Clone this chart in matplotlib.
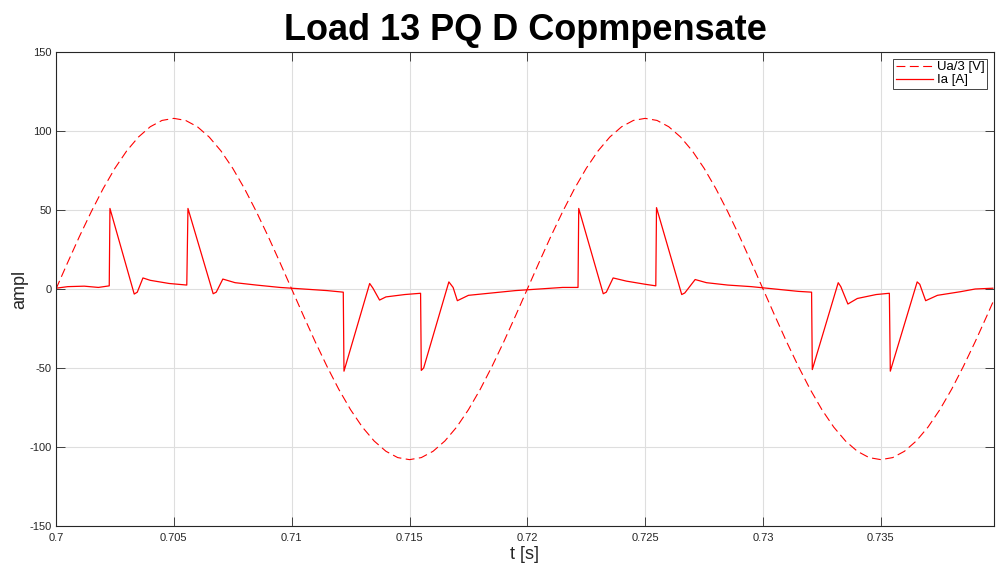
import numpy as np
import matplotlib
matplotlib.use("Agg")
import matplotlib.pyplot as plt

plt.rcParams['font.family'] = ['Liberation Sans', 'DejaVu Sans']
plt.rcParams['axes.unicode_minus'] = False

# Ua/3 sampled every 0.5 ms, 0.700 .. 0.740 s
t_ua = [0.7 + 0.0005 * k for k in range(81)]
ua = [0.0, 16.9, 33.4, 49.0, 63.5, 76.4, 87.4, 96.2, 102.7, 106.7,
      108.0, 106.7, 102.7, 96.2, 87.4, 76.4, 63.5, 49.0, 33.4, 16.9,
      0.0, -16.9, -33.4, -49.0, -63.5, -76.4, -87.4, -96.2, -102.7, -106.7,
      -108.0, -106.7, -102.7, -96.2, -87.4, -76.4, -63.5, -49.0, -33.4, -16.9,
      0.0, 16.9, 33.4, 49.0, 63.5, 76.4, 87.4, 96.2, 102.7, 106.7,
      108.0, 106.7, 102.7, 96.2, 87.4, 76.4, 63.5, 49.0, 33.4, 16.9,
      0.0, -16.9, -33.4, -49.0, -63.5, -76.4, -87.4, -96.2, -102.7, -106.7,
      -108.0, -106.7, -102.7, -96.2, -87.4, -76.4, -63.5, -49.0, -33.4, -16.9,
      0.0]

# Ia breakpoints
t_ia = [0.70000, 0.70050, 0.70120, 0.70180, 0.70226, 0.70229, 0.70332, 0.70345,
        0.70369, 0.70400, 0.70480, 0.70555, 0.70560, 0.70667, 0.70680, 0.70708,
        0.70760, 0.70850, 0.70950, 0.71050, 0.71150, 0.71219, 0.71222, 0.71331,
        0.71345, 0.71373, 0.71400, 0.71480, 0.71547, 0.71550, 0.71560, 0.71667,
        0.71685, 0.71703, 0.71750, 0.71850, 0.71950, 0.72050, 0.72150, 0.72215,
        0.72218, 0.72322, 0.72335, 0.72364, 0.72420, 0.72500, 0.72545, 0.72548,
        0.72655, 0.72668, 0.72712, 0.72760, 0.72850, 0.72950, 0.73050, 0.73150,
        0.73206, 0.73209, 0.73319, 0.73330, 0.73360, 0.73400, 0.73480, 0.73536,
        0.73540, 0.73654, 0.73665, 0.73690, 0.73740, 0.73838, 0.73900, 0.73975]
ia = [0.5, 1.5, 1.8, 1.0, 2.0, 51.0, -3.2, -2.0,
      7.0, 5.5, 3.5, 2.5, 51.0, -3.0, -2.0, 6.3,
      4.0, 2.5, 1.0, 0.0, -1.0, -2.0, -52.0, 3.5,
      0.5, -7.0, -5.0, -3.5, -2.7, -51.5, -50.0, 4.5,
      1.0, -7.4, -4.0, -2.5, -1.0, 0.0, 1.0, 1.0,
      51.0, -3.0, -2.0, 7.0, 5.0, 3.0, 2.0, 51.5,
      -3.5, -2.5, 6.0, 4.0, 2.5, 1.5, 0.0, -1.5,
      -2.0, -51.0, 4.0, 1.5, -9.5, -6.0, -3.5, -2.7,
      -52.0, 4.5, 3.0, -7.4, -4.0, -1.7, 0.0, 0.5]

xticks = [0.7, 0.705, 0.71, 0.715, 0.72, 0.725, 0.73, 0.735]
xticklabels = ['0.7', '0.705', '0.71', '0.715', '0.72', '0.725', '0.73', '0.735']
yticks = [-150, -100, -50, 0, 50, 100, 150]

fig = plt.figure(figsize=(9.96, 5.74), dpi=100)
ax = fig.add_axes([0.0562, 0.0836, 0.9418, 0.8258])

ax.plot(t_ua, ua, color='red', lw=0.8, dashes=(8, 4), label='Ua/3 [V]')
ax.plot(t_ia, ia, color='red', lw=0.9, label='Ia [A]')

ax.set_xlim(0.7, 0.7398)
ax.set_ylim(-150, 150)
ax.set_xticks(xticks)
ax.set_xticklabels(xticklabels)
ax.set_yticks(yticks)
ax.grid(True, color='#dedede', lw=0.8)
ax.set_axisbelow(True)
ax.tick_params(direction='in', length=6.5, width=0.6, colors='#262626',
               labelsize=8, top=True, right=True, pad=3)
ax.tick_params(axis='x', pad=5)
for s in ax.spines.values():
    s.set_color('#262626')
    s.set_linewidth(0.8)

ax.set_xlabel('t [s]', fontsize=13, color='#262626', labelpad=2)
ax.set_ylabel('ampl', fontsize=13, color='#262626', labelpad=1)
ax.set_title('Load 13 PQ D Copmpensate', fontsize=26, fontweight='bold', pad=9)

leg = ax.legend(loc='upper right', fontsize=9.5, fancybox=False, framealpha=1,
                edgecolor='#262626', handlelength=2.8, borderpad=0.2,
                labelspacing=0.05, handletextpad=0.3, borderaxespad=0.5)
leg.get_frame().set_linewidth(0.6)

fig.savefig('out.png', dpi=100)
